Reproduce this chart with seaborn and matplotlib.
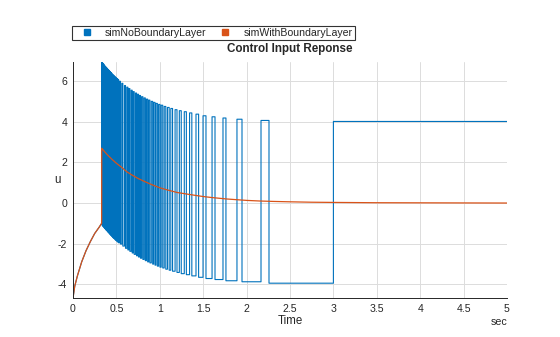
import matplotlib
matplotlib.use("Agg")
import matplotlib.pyplot as plt
import pandas as pd
import seaborn as sns
from matplotlib.lines import Line2D

# --- simWithBoundaryLayer: control input u(t) ---
t_bl = [0.0, 0.02, 0.05, 0.1, 0.15, 0.2, 0.25, 0.3, 0.33,
        0.331, 0.36, 0.4, 0.45, 0.5, 0.56, 0.62, 0.68, 0.75, 0.82, 0.9, 1.0,
        1.1, 1.2, 1.3, 1.39, 1.5, 1.6, 1.77, 1.9, 2.0, 2.15, 2.3, 2.5,
        2.75, 3.0, 3.5, 4.0, 4.5, 5.0]
u_bl = [-4.68, -4.1, -3.6, -2.9, -2.35, -1.9, -1.5, -1.2, -1.0,
        2.7, 2.55, 2.36, 2.15, 1.96, 1.76, 1.54, 1.38, 1.21, 1.07, 0.92, 0.75,
        0.63, 0.52, 0.45, 0.39, 0.32, 0.27, 0.2, 0.16, 0.13, 0.1, 0.08, 0.06,
        0.04, 0.03, 0.015, 0.01, 0.005, 0.0]

# --- simNoBoundaryLayer: chattering switch instants and levels ---
pulse_rise = [0.330, 0.337, 0.344, 0.351, 0.358, 0.365, 0.372, 0.379, 0.386,
              0.393, 0.400, 0.407, 0.414, 0.421, 0.428, 0.435, 0.442, 0.450,
              0.458, 0.466, 0.474, 0.482, 0.490, 0.498, 0.506, 0.514, 0.522,
              0.535, 0.562, 0.593, 0.620, 0.643, 0.670, 0.693, 0.720, 0.743,
              0.766, 0.791, 0.819, 0.846, 0.872, 0.902, 0.929, 0.956, 0.986,
              1.016, 1.051, 1.088, 1.127, 1.176, 1.225, 1.282, 1.343, 1.417,
              1.498, 1.602, 1.728, 1.889, 2.166]
pulse_fall = [0.334, 0.341, 0.348, 0.355, 0.362, 0.369, 0.376, 0.383, 0.390,
              0.397, 0.404, 0.411, 0.418, 0.425, 0.432, 0.439, 0.446, 0.454,
              0.462, 0.470, 0.478, 0.486, 0.494, 0.502, 0.510, 0.518, 0.526,
              0.547, 0.574, 0.605, 0.632, 0.655, 0.682, 0.705, 0.732, 0.755,
              0.778, 0.805, 0.833, 0.860, 0.886, 0.918, 0.945, 0.972, 1.002,
              1.034, 1.069, 1.108, 1.147, 1.198, 1.247, 1.306, 1.369, 1.447,
              1.532, 1.636, 1.762, 1.947, 2.258]
pulse_high = [6.95, 6.91, 6.87, 6.84, 6.80, 6.76, 6.73, 6.69, 6.66,
              6.63, 6.59, 6.56, 6.53, 6.49, 6.46, 6.43, 6.40, 6.36,
              6.33, 6.29, 6.26, 6.23, 6.19, 6.16, 6.13, 6.10, 6.07,
              6.00, 5.90, 5.79, 5.71, 5.64, 5.56, 5.49, 5.42, 5.36,
              5.30, 5.24, 5.18, 5.12, 5.07, 5.01, 4.96, 4.91, 4.86,
              4.82, 4.76, 4.71, 4.66, 4.60, 4.55, 4.50, 4.44, 4.38,
              4.30, 4.25, 4.19, 4.13, 4.07]
pulse_low = [-1.09, -1.13, -1.16, -1.20, -1.24, -1.27, -1.31, -1.34, -1.37,
             -1.41, -1.44, -1.47, -1.51, -1.54, -1.57, -1.60, -1.64, -1.67,
             -1.71, -1.74, -1.77, -1.81, -1.84, -1.87, -1.90, -1.93, -1.96,
             -2.02, -2.12, -2.23, -2.31, -2.38, -2.46, -2.53, -2.60, -2.66,
             -2.72, -2.78, -2.84, -2.90, -2.95, -3.01, -3.06, -3.11, -3.16,
             -3.20, -3.26, -3.31, -3.36, -3.42, -3.48, -3.53, -3.59, -3.66,
             -3.72, -3.77, -3.83, -3.88, -3.95]
t_last_switch = 3.0
u_after_switch = 4.02
t_end = 5.0

x_ticks = [0, 0.5, 1, 1.5, 2, 2.5, 3, 3.5, 4, 4.5, 5]
x_tick_labels = ["0", "0.5", "1", "1.5", "2", "2.5", "3", "3.5", "4", "4.5", "5"]
y_ticks = [-4, -2, 0, 2, 4, 6]

series_names = ["simNoBoundaryLayer", "simWithBoundaryLayer"]
series_colors = ["#0072BD", "#D95319"]

# Build the switched signal: reaching phase follows the same path,
# then square pulses between the high and low levels.
n_reach = 9
t_nb = list(t_bl[:n_reach])
u_nb = list(u_bl[:n_reach])
prev_low = u_bl[n_reach - 1]
for r, f, hi, lo in zip(pulse_rise, pulse_fall, pulse_high, pulse_low):
    t_nb += [r, r, f, f]
    u_nb += [prev_low, hi, hi, lo]
    prev_low = lo
t_nb += [t_last_switch, t_last_switch, t_end]
u_nb += [prev_low, u_after_switch, u_after_switch]

df_nb = pd.DataFrame({"Time": t_nb, "u": u_nb})
df_bl = pd.DataFrame({"Time": t_bl, "u": u_bl})

sns.set_theme(style="whitegrid")
plt.rcParams["font.family"] = ["Liberation Sans", "DejaVu Sans"]
plt.rcParams["axes.unicode_minus"] = False

fig = plt.figure(figsize=(5.6, 3.37), dpi=100)
ax = fig.add_axes([73 / 560, 1 - 298 / 337, 434 / 560, 236 / 337])

sns.lineplot(data=df_nb, x="Time", y="u", ax=ax, estimator=None, sort=False,
             color=series_colors[0], linewidth=0.8)
sns.lineplot(data=df_bl, x="Time", y="u", ax=ax, estimator=None, sort=False,
             color=series_colors[1], linewidth=0.9)

ymin = min(min(u_nb), min(u_bl))
ymax = max(max(u_nb), max(u_bl))
ax.set_xlim(0, 5)
ax.set_ylim(ymin, ymax)
ax.set_xticks(x_ticks)
ax.set_xticklabels(x_tick_labels)
ax.set_yticks(y_ticks)

ax.grid(True, color="#dcdcdc", linewidth=0.7)
for side in ["top", "right"]:
    ax.spines[side].set_visible(False)
for side in ["left", "bottom"]:
    ax.spines[side].set_color("#262626")
    ax.spines[side].set_linewidth(0.7)
ax.tick_params(axis="both", direction="out", length=3, width=0.6,
               colors="#262626", labelsize=7.6, pad=1.2)

ax.set_xlabel("Time", fontsize=8.3, color="#262626")
ax.xaxis.set_label_coords(0.5, -0.097)
ax.xaxis.label.set_va("center")
ax.set_ylabel("u", fontsize=8.3, color="#262626", rotation=0)
ax.yaxis.set_label_coords(-0.037, 0.5)
ax.yaxis.label.set_va("center")
ax.yaxis.label.set_ha("center")

ax.text(1.0, -0.1, "sec", transform=ax.transAxes, ha="right", va="center",
        fontsize=7.7, color="#262626")
ax.text(0.5, 1 + 13 / 236, "Control Input Reponse", transform=ax.transAxes,
        ha="center", va="center", fontsize=8.4, fontweight="bold", color="#262626")

handles = [Line2D([], [], linestyle="none", marker="s", markersize=4.2,
                  markerfacecolor=c, markeredgecolor=c) for c in series_colors]
leg = fig.legend(handles, series_names, loc="upper left",
                 bbox_to_anchor=(72 / 560, 1 - 26 / 337), ncol=2,
                 frameon=True, fancybox=False, fontsize=7.6,
                 borderpad=0.2, handlelength=2.38, handletextpad=0.54,
                 columnspacing=0.6, borderaxespad=0)
leg.get_frame().set_edgecolor("black")
leg.get_frame().set_linewidth(0.8)

fig.savefig("out.png", dpi=100)
